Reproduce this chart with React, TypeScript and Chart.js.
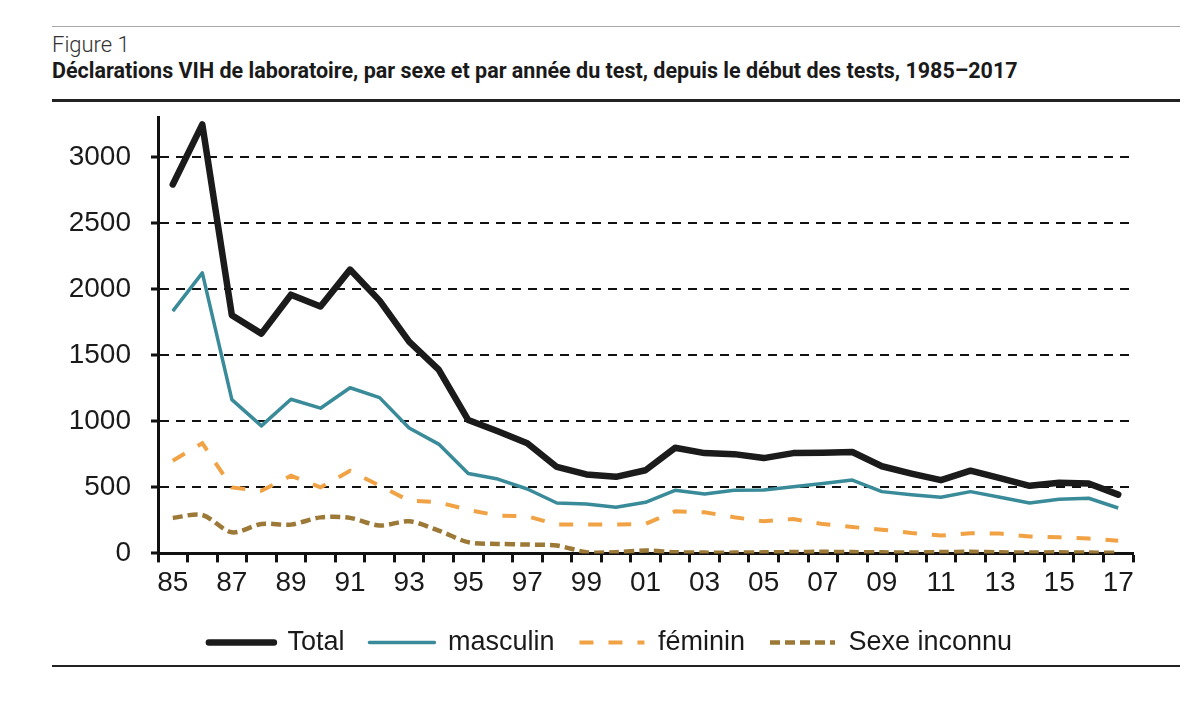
import React, { useEffect, useRef } from "react";
import { Chart, registerables } from "chart.js";

Chart.register(...registerables);

const years = [
  "85", "86", "87", "88", "89", "90", "91", "92", "93", "94", "95",
  "96", "97", "98", "99", "00", "01", "02", "03", "04", "05", "06",
  "07", "08", "09", "10", "11", "12", "13", "14", "15", "16", "17",
];

const totalValues = [
  2795, 3250, 1805, 1665, 1960, 1870, 2150, 1915, 1605, 1392, 1010,
  925, 835, 655, 598, 580, 630, 800, 760, 752, 722, 760, 762, 768,
  660, 605, 555, 627, 570, 512, 535, 530, 445,
];

const masculinValues = [
  1835, 2125, 1165, 966, 1168, 1100, 1255, 1180, 950, 828, 605,
  563, 488, 382, 375, 349, 387, 478, 450, 478, 480, 505, 530, 556,
  468, 445, 425, 468, 425, 382, 410, 418, 344,
];

const femininValues = [
  702, 835, 500, 475, 588, 500, 626, 513, 400, 387, 330,
  286, 281, 218, 218, 218, 224, 319, 311, 274, 243, 261, 222, 200,
  180, 155, 135, 153, 150, 128, 122, 113, 95,
];

const inconnuValues = [
  269, 291, 160, 223, 218, 273, 269, 211, 243, 173, 85,
  72, 67, 60, 9, 9, 22, 9, 6, 6, 8, 10, 12, 10,
  8, 6, 10, 12, 8, 6, 8, 6, 5,
];

const yTickValues = [0, 500, 1000, 1500, 2000, 2500, 3000];

const seriesNames = ["Total", "masculin", "féminin", "Sexe inconnu"];

const figureLabel = "Figure 1";
const titleText =
  "Déclarations VIH de laboratoire, par sexe et par année du test, depuis le début des tests, 1985–2017";

const tickFont = "'Liberation Sans', Arial, sans-serif";

const legendNudge = {
  id: "legendNudge",
  afterLayout(chart: any) {
    const lg = chart.legend;
    if (!lg) return;
    lg.left += 10;
    lg.right += 10;
  },
};

export default function App() {
  const canvasRef = useRef<HTMLCanvasElement | null>(null);

  useEffect(() => {
    if (!canvasRef.current) return;
    const chart = new Chart(canvasRef.current, {
      type: "line",
      data: {
        labels: years,
        datasets: [
          {
            label: seriesNames[0],
            data: totalValues,
            borderColor: "#1b1b1b",
            backgroundColor: "#1b1b1b",
            borderWidth: 6.5,
            borderJoinStyle: "round",
            borderCapStyle: "round",
            pointRadius: 0,
            tension: 0,
          },
          {
            label: seriesNames[1],
            data: masculinValues,
            borderColor: "#3a8b99",
            backgroundColor: "#3a8b99",
            borderWidth: 3.5,
            borderJoinStyle: "round",
            pointRadius: 0,
            tension: 0,
          },
          {
            label: seriesNames[2],
            data: femininValues,
            borderColor: "#f0a244",
            backgroundColor: "#f0a244",
            borderWidth: 4,
            borderDash: [14, 15],
            pointRadius: 0,
            tension: 0,
          },
          {
            label: seriesNames[3],
            data: inconnuValues,
            borderColor: "#9d7937",
            backgroundColor: "#9d7937",
            borderWidth: 4.5,
            borderDash: [10, 5],
            pointRadius: 0,
            tension: 0.3,
          },
        ],
      },
      options: {
        animation: false,
        responsive: false,
        maintainAspectRatio: false,
        layout: { padding: { left: 68, right: 67, top: 0, bottom: 0 } },
        scales: {
          x: {
            type: "category",
            offset: true,
            grid: {
              offset: true,
              drawOnChartArea: false,
              drawTicks: true,
              tickLength: 9,
              tickWidth: 3,
              tickColor: "#111",
            },
            border: { display: true, width: 3, color: "#111" },
            ticks: {
              autoSkip: false,
              maxRotation: 0,
              minRotation: 0,
              padding: 4,
              color: "#1a1a1a",
              font: { family: tickFont, size: 28 },
              callback: (_v: any, i: number) => (i % 2 === 0 ? years[i] : ""),
            },
          },
          y: {
            min: 0,
            max: 3300,
            afterBuildTicks: (scale: any) => {
              scale.ticks = yTickValues.map((v) => ({ value: v }));
            },
            afterFit: (scale: any) => {
              scale.width = 90;
            },
            ticks: {
              padding: 20,
              color: "#1a1a1a",
              font: { family: tickFont, size: 28 },
              callback: (v: any) => String(v),
            },
            grid: {
              color: "#111",
              lineWidth: 2,
              drawTicks: true,
              tickLength: 7,
              tickWidth: 3,
              tickColor: "#111",
              tickBorderDash: [],
            } as any,
            border: { display: true, width: 3, color: "#111", dash: [9, 7] },
          },
        },
        plugins: {
          legend: {
            position: "bottom",
            labels: {
              boxWidth: 65,
              boxHeight: 0,
              padding: 25,
              color: "#1a1a1a",
              font: { family: tickFont, size: 27 },
            },
          },
          tooltip: { enabled: false },
        },
      },
      plugins: [legendNudge],
    });
    return () => chart.destroy();
  }, []);

  return (
    <div
      style={{
        position: "relative",
        width: 1200,
        height: 712,
        margin: -8,
        background: "#ffffff",
        overflow: "hidden",
      }}
    >
      <div style={{ position: "absolute", left: 52, top: 26, width: 1128, height: 1, background: "#a8a8a8" }} />
      <div
        style={{
          position: "absolute",
          left: 52,
          top: 32,
          fontFamily: "Roboto, 'Noto Sans', sans-serif",
          fontWeight: 300,
          fontSize: 22,
          color: "#333",
          whiteSpace: "nowrap",
        }}
      >
        {figureLabel}
      </div>
      <div
        style={{
          position: "absolute",
          left: 52,
          top: 58,
          fontFamily: "Roboto, 'Noto Sans', sans-serif",
          fontWeight: 700,
          fontSize: 21.5,
          color: "#1a1a1a",
          whiteSpace: "nowrap",
        }}
      >
        {titleText}
      </div>
      <div style={{ position: "absolute", left: 52, top: 99, width: 1128, height: 3, background: "#222" }} />
      <canvas
        ref={canvasRef}
        width={1200}
        height={585}
        style={{ position: "absolute", left: 0, top: 81, width: 1200, height: 585 }}
      />
      <div style={{ position: "absolute", left: 52, top: 665, width: 1128, height: 2, background: "#222" }} />
    </div>
  );
}
